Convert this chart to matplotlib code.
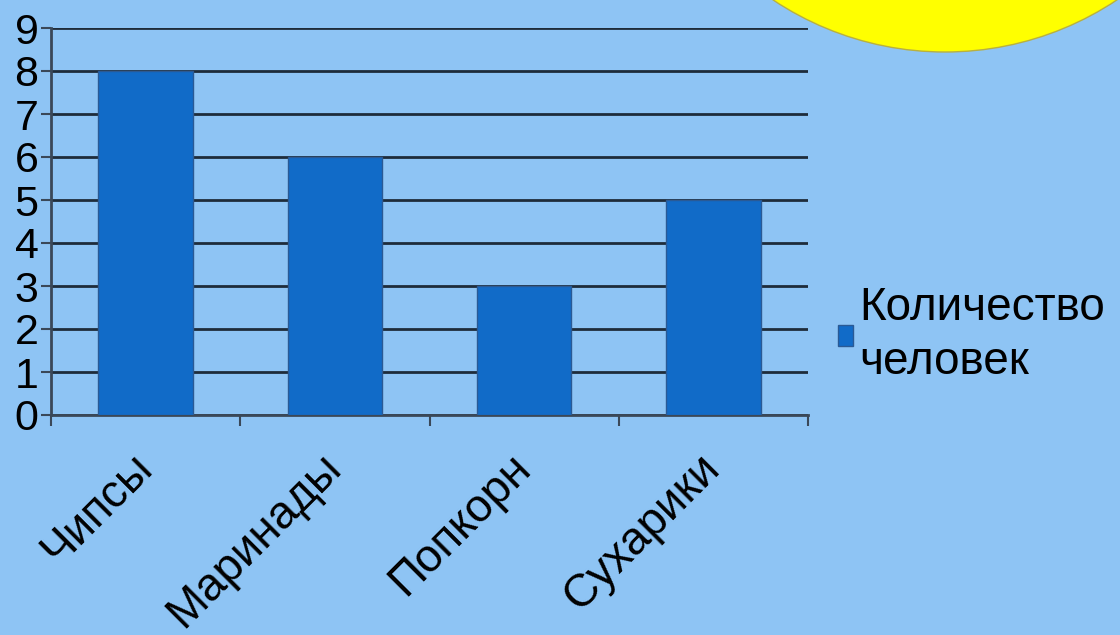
import matplotlib.pyplot as plt
import matplotlib.transforms as mtransforms
from matplotlib.patches import Ellipse
import numpy as np

categories = ['Чипсы', 'Маринады', 'Попкорн', 'Сухарики']
values = [8, 6, 3, 5]
series_name = 'Количество\nчеловек'

plt.rcParams['font.family'] = ['Liberation Sans', 'DejaVu Sans']

bg = '#8ec4f4'
bar_color = '#116bc8'

fig = plt.figure(figsize=(11.2, 6.35), dpi=100, facecolor=bg)

# yellow sun in the top right corner
W, H = 1120, 635
r = 310
sun = Ellipse((945 / W, 1 - (-258) / H), 2 * r / W, 2 * r / H,
              transform=fig.transFigure, facecolor='#ffff00',
              edgecolor='#b8b040', linewidth=1, zorder=0)
fig.patches.append(sun)

ax = fig.add_axes([51 / W, 1 - 415 / H, (808 - 51) / W, (415 - 28) / H])
ax.set_facecolor('none')

x = np.arange(len(categories)) + 0.5
ax.bar(x, values, width=0.5, color=bar_color, edgecolor='#2a5a95',
       linewidth=1, zorder=3, label=series_name)

ax.set_xlim(0, len(categories))
ax.set_ylim(0, 9)
ax.set_yticks(range(0, 10))
ax.yaxis.grid(True, color='#1e2c3a', linewidth=2)
ax.set_axisbelow(True)

for s in ['top', 'right']:
    ax.spines[s].set_visible(False)
ax.spines['left'].set_color('#3a4858')
ax.spines['left'].set_linewidth(2)
ax.spines['bottom'].set_color('#3a4858')
ax.spines['bottom'].set_linewidth(2)

ax.set_xticks(range(0, len(categories) + 1))
ax.set_xticklabels([])
ax.set_xticks(x, minor=True)
ax.set_xticklabels(categories, minor=True, rotation=45, ha='right',
                   va='top', rotation_mode='anchor', fontsize=33)
ax.tick_params(axis='x', which='major', direction='out', length=8,
               width=1.5, color='#3a4858')
ax.tick_params(axis='x', which='minor', length=0, pad=22)
shift = mtransforms.ScaledTranslation(-16 / 100, 0, fig.dpi_scale_trans)
for lbl in ax.get_xticklabels(minor=True):
    lbl.set_transform(lbl.get_transform() + shift)

ax.tick_params(axis='y', direction='out', length=7, width=1.5,
               color='#3a4858', labelsize=31, pad=2)

leg = ax.legend(loc='center left', bbox_to_anchor=(838 / W, 1 - 335 / H),
                bbox_transform=fig.transFigure, frameon=False, fontsize=33,
                handlelength=0.32, handleheight=0.32, handletextpad=0.15,
                borderpad=0, borderaxespad=0, labelspacing=0.2)
for t in leg.get_texts():
    t.set_linespacing(1.3)

fig.savefig('out.png', dpi=100, facecolor=bg)
